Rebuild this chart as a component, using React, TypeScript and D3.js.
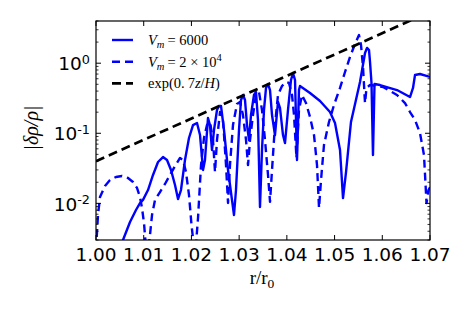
import React from "react";
import * as d3 from "d3";

// axis ticks
const xTicks = [1.0, 1.01, 1.02, 1.03, 1.04, 1.05, 1.06, 1.07];
const yDecades = [-2, -1, 0];

// V_m = 6000 (solid)
const solidR = [
  1.00503, 1.00566, 1.00713, 1.00838, 1.00922, 1.00985, 1.0109, 1.01195, 1.013, 1.01404,
  1.01488, 1.01572, 1.01656, 1.01719, 1.01781, 1.01865, 1.01949, 1.02033, 1.02117, 1.0218,
  1.02243, 1.02284, 1.02347, 1.02389, 1.02431, 1.02473, 1.02536, 1.02578, 1.0262, 1.02683,
  1.02767, 1.0285, 1.02892, 1.02934, 1.02997, 1.03039, 1.03081, 1.03123, 1.03165, 1.03207,
  1.03248, 1.03311, 1.03353, 1.03395, 1.03437, 1.03479, 1.03521, 1.03563, 1.03605, 1.03647,
  1.03689, 1.03751, 1.03814, 1.03856, 1.03919, 1.03961, 1.04024, 1.04087, 1.04129, 1.04171,
  1.04213, 1.04254, 1.04275, 1.04485, 1.04695, 1.04904, 1.05009, 1.05114, 1.05177, 1.0524,
  1.05344, 1.05533, 1.05638, 1.0568, 1.05722, 1.05743, 1.05774, 1.05805, 1.05837, 1.05952,
  1.06308, 1.06581, 1.06644, 1.06686, 1.0679, 1.07,
];
const solidV = [
  0.00202, 0.003, 0.00542, 0.00804, 0.0101, 0.0112, 0.0155, 0.0254, 0.0389, 0.0458,
  0.0416, 0.0299, 0.0183, 0.0115, 0.0155, 0.0416, 0.0856, 0.131, 0.14, 0.0944,
  0.0299, 0.0416, 0.165, 0.131, 0.0577, 0.111, 0.215, 0.245, 0.245, 0.111,
  0.0299, 0.0112, 0.00682, 0.0155, 0.111, 0.298, 0.352, 0.298, 0.131, 0.0802,
  0.182, 0.352, 0.388, 0.155, 0.00887, 0.0577, 0.215, 0.443, 0.505, 0.414,
  0.182, 0.0944, 0.28, 0.23, 0.0944, 0.0726, 0.215, 0.576, 0.725, 0.576,
  0.0416, 0.414, 0.473, 0.376, 0.289, 0.201, 0.14, 0.0577, 0.0119, 0.028,
  0.145, 0.54, 1.4, 1.65, 1.54, 1.04, 0.522, 0.049, 0.505, 0.488,
  0.414, 0.329, 0.443, 0.678, 0.701, 0.636,
];

// V_m = 2e4 (dashed)
const dashedR = [
  1.0, 1.00042, 1.00084, 1.00189, 1.00293, 1.00419, 1.00545, 1.00671, 1.00775, 1.00859,
  1.00922, 1.00964, 1.01006, 1.01059, 1.01121, 1.01174, 1.01237, 1.01341, 1.01446, 1.01551,
  1.01656, 1.01761, 1.01823, 1.01886, 1.01949, 1.02002, 1.02075, 1.02138, 1.02201, 1.02263,
  1.02326, 1.02389, 1.02452, 1.02494, 1.02536, 1.02599, 1.02662, 1.02725, 1.02767, 1.02808,
  1.02871, 1.02955, 1.03018, 1.03081, 1.03144, 1.03186, 1.03228, 1.0329, 1.03353, 1.03416,
  1.03479, 1.03542, 1.03605, 1.03647, 1.03689, 1.03751, 1.03814, 1.03898, 1.03982, 1.04045,
  1.04108, 1.0415, 1.04202, 1.04254, 1.04317, 1.04401, 1.04485, 1.04569, 1.04632, 1.04674,
  1.04716, 1.04778, 1.04883, 1.04988, 1.05114, 1.05219, 1.05324, 1.05428, 1.05512, 1.05554,
  1.05596, 1.05638, 1.05669, 1.05743, 1.06015, 1.06308, 1.06476, 1.06581, 1.06686, 1.0679,
  1.06874, 1.06927, 1.06969, 1.07,
];
const dashedV = [
  0.00216, 0.00682, 0.0123, 0.0177, 0.0215, 0.0238, 0.0246, 0.023, 0.0202, 0.0166,
  0.0123, 0.0086, 0.00525, 0.00183, 0.003, 0.00682, 0.0112, 0.0145, 0.0189, 0.0254,
  0.0341, 0.0444, 0.0416, 0.028, 0.0132, 0.00491, 0.0017, 0.00618, 0.0352, 0.0856,
  0.131, 0.145, 0.0802, 0.028, 0.0802, 0.201, 0.155, 0.0352, 0.0101, 0.0352,
  0.131, 0.262, 0.28, 0.182, 0.0802, 0.0352, 0.0802, 0.182, 0.352, 0.388,
  0.215, 0.0802, 0.0254, 0.0105, 0.0299, 0.131, 0.352, 0.473, 0.54, 0.522,
  0.352, 0.182, 0.0444, 0.215, 0.352, 0.27, 0.171, 0.0944, 0.0352, 0.0086,
  0.0215, 0.068, 0.145, 0.253, 0.443, 0.749, 1.23, 1.88, 2.52, 1.82,
  0.88, 0.27, 0.443, 0.488, 0.458, 0.352, 0.27, 0.201, 0.155, 0.101,
  0.049, 0.0101, 0.0155, 0.017,
];

// exp(0.7z/H) reference line, straight on log axis
const trendR = [1.0, 1.07];
const trendV = [0.04, 5.4];

const W = 474;
const H = 316;
const margin = { top: 21, right: 44, bottom: 76, left: 96 };
const BLUE = "#0000ff";

export default function App() {
  const x = d3.scaleLinear().domain([1.0, 1.07]).range([margin.left, W - margin.right]);
  const y = d3.scaleLog().domain([0.003, 4]).range([H - margin.bottom, margin.top]);
  const x0 = margin.left;
  const x1 = W - margin.right;
  const y0 = H - margin.bottom;
  const y1 = margin.top;

  const line = d3
    .line<[number, number]>()
    .x((d) => x(d[0]))
    .y((d) => y(d[1]));
  const pts = (rs: number[], vs: number[]) => rs.map((r, i) => [r, vs[i]] as [number, number]);

  const minor: number[] = [];
  [-3, -2, -1, 0].forEach((e) => {
    for (let k = 2; k <= 9; k++) {
      const v = k * Math.pow(10, e);
      if (v >= 0.003 && v <= 4) minor.push(v);
    }
  });

  const tickFont = "DejaVu Sans, sans-serif";
  const mathFont = "Liberation Serif, DejaVu Serif, serif";

  const legend = [
    { y: 40, dash: undefined as string | undefined, color: BLUE },
    { y: 61.7, dash: "8,5", color: BLUE },
    { y: 83.3, dash: "9,5", color: "#000" },
  ];

  return (
    <svg width={W} height={H} style={{ position: "absolute", left: 0, top: 0, background: "#fff" }}>
      <defs>
        <clipPath id="plot">
          <rect x={x0} y={y1} width={x1 - x0} height={y0 - y1} />
        </clipPath>
      </defs>

      <g clipPath="url(#plot)" fill="none" strokeLinejoin="round">
        <path d={line(pts(solidR, solidV)) || ""} stroke={BLUE} strokeWidth={2.4} />
        <path d={line(pts(dashedR, dashedV)) || ""} stroke={BLUE} strokeWidth={2.4} strokeDasharray="8,5" />
        <path d={line(pts(trendR, trendV)) || ""} stroke="#000" strokeWidth={2.7} strokeDasharray="9,5" />
      </g>

      {/* frame */}
      <rect x={x0} y={y1} width={x1 - x0} height={y0 - y1} fill="none" stroke="#000" strokeWidth={1.2} />

      {/* x ticks */}
      {xTicks.map((t) => (
        <g key={"x" + t}>
          <line x1={x(t)} x2={x(t)} y1={y0} y2={y0 - 5} stroke="#000" />
          <line x1={x(t)} x2={x(t)} y1={y1} y2={y1 + 5} stroke="#000" />
          <text x={x(t)} y={261} textAnchor="middle" fontFamily={tickFont} fontSize={18.5}>
            {t.toFixed(2)}
          </text>
        </g>
      ))}

      {/* y ticks */}
      {yDecades.map((e) => {
        const yy = y(Math.pow(10, e));
        return (
          <g key={"y" + e}>
            <line x1={x0} x2={x0 + 5} y1={yy} y2={yy} stroke="#000" />
            <line x1={x1} x2={x1 - 5} y1={yy} y2={yy} stroke="#000" />
            <text x={90} y={yy + 7.2} textAnchor="end" fontFamily={tickFont} fontSize={18.5}>
              10
              <tspan dy={-6.5} fontSize={12.8}>
                {e < 0 ? "-" + Math.abs(e) : String(e)}
              </tspan>
            </text>
          </g>
        );
      })}
      {minor.map((v) => (
        <g key={"m" + v}>
          <line x1={x0} x2={x0 + 2.5} y1={y(v)} y2={y(v)} stroke="#000" strokeWidth={0.8} />
          <line x1={x1} x2={x1 - 2.5} y1={y(v)} y2={y(v)} stroke="#000" strokeWidth={0.8} />
        </g>
      ))}

      {/* axis labels */}
      <text
        transform="translate(38,128) rotate(-90)"
        textAnchor="middle"
        fontFamily={mathFont}
        fontSize={20}
        fontStyle="italic"
      >
        |δρ/ρ|
      </text>
      <text x={262} y={284} textAnchor="middle" fontFamily={mathFont} fontSize={19}>
        r/r
        <tspan dy={4} fontSize={13.5}>
          0
        </tspan>
      </text>

      {/* legend */}
      {legend.map((l, i) => (
        <line
          key={"l" + i}
          x1={112}
          x2={133}
          y1={l.y}
          y2={l.y}
          stroke={l.color}
          strokeWidth={i === 2 ? 2.7 : 2.4}
          strokeDasharray={l.dash}
        />
      ))}
      <text x={148} y={45} fontFamily={mathFont} fontSize={14.5}>
        <tspan fontStyle="italic">V</tspan>
        <tspan dy={3} fontSize={10.5} fontStyle="italic">m</tspan>
        <tspan dy={-3} dx={3}>= 6000</tspan>
      </text>
      <text x={148} y={66.7} fontFamily={mathFont} fontSize={14.5}>
        <tspan fontStyle="italic">V</tspan>
        <tspan dy={3} fontSize={10.5} fontStyle="italic">m</tspan>
        <tspan dy={-3} dx={3}>= 2 × 10</tspan>
        <tspan dy={-6} fontSize={10.5}>4</tspan>
      </text>
      <text x={148} y={88.3} fontFamily={mathFont} fontSize={14.5}>
        exp(0.
        <tspan dx={3}>7</tspan>
        <tspan fontStyle="italic">z</tspan>
        /
        <tspan fontStyle="italic">H</tspan>)
      </text>
    </svg>
  );
}
